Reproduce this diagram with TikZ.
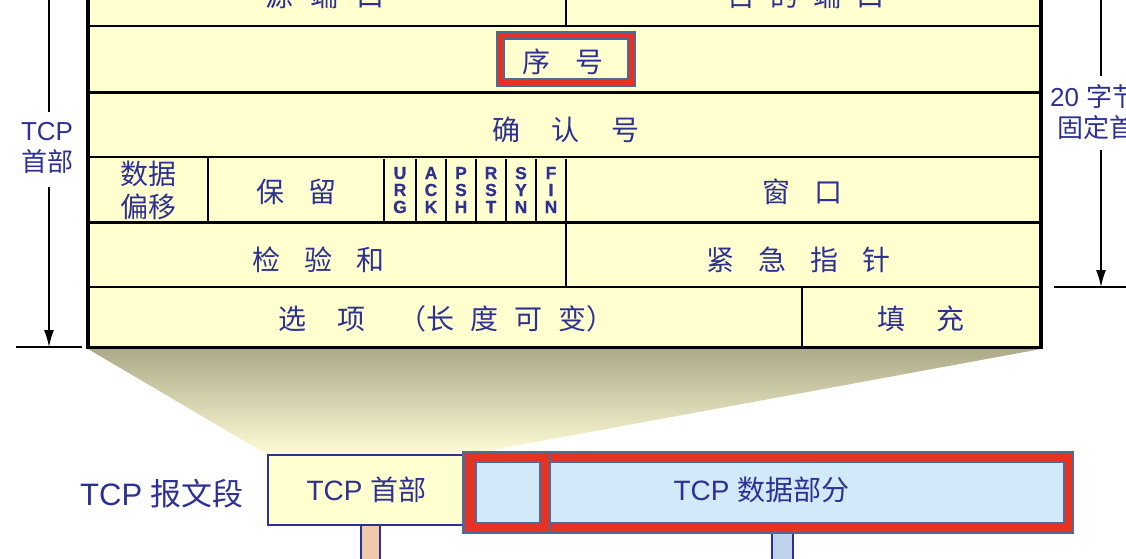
\documentclass[tikz,border=0pt]{standalone}
\usepackage{fontspec}
\setmainfont{Liberation Sans}
\newfontfamily\cjk{Noto Sans CJK SC}
\newfontfamily\latb{Liberation Sans Bold}[FakeBold=0.8]
\usetikzlibrary{arrows.meta}
\definecolor{tabfill}{RGB}{255,255,208}
\definecolor{txtblue}{RGB}{46,49,146}
\definecolor{redband}{RGB}{230,50,35}
\definecolor{bordgray}{RGB}{74,108,150}
\definecolor{lightblue}{RGB}{210,233,250}
\definecolor{peach}{RGB}{240,200,172}
\definecolor{stemblue}{RGB}{190,210,236}
\definecolor{shdtop}{RGB}{172,170,136}
\definecolor{shdmid}{RGB}{234,232,190}
\definecolor{shdbot}{RGB}{254,253,215}
\tikzset{
  tt/.style={text=txtblue, font=\cjk\fontsize{28}{33}\selectfont, inner sep=0pt, align=center},
  lbl/.style={text=txtblue, font=\fontsize{26}{31}\selectfont, inner sep=0pt, align=center},
  flagtxt/.style={text=txtblue, font=\latb\fontsize{17.5}{17}\selectfont, inner sep=0pt, align=center},
  rowline/.style={line width=2.5pt, black},
  edge/.style={line width=4pt, black},
  dimline/.style={line width=1.5pt, black},
  dimarrow/.style={line width=1.5pt, black, -{Latex[length=17pt,width=10pt]}},
  redouter/.style={draw=bordgray, fill=redband, line width=2.5pt},
  blueinner/.style={draw=bordgray, fill=lightblue, line width=2pt},
}
\begin{document}
\begin{tikzpicture}[x=1pt,y=-1pt]
\useasboundingbox (0,0) rectangle (1126,558);
\clip (0,0) rectangle (1126,558);

% shadow trapezoid
\shade[top color=shdtop, middle color=shdmid, bottom color=shdbot]
  (88,349) -- (1041,349) -- (465,455) -- (268,455) -- cycle;

% table background
\fill[tabfill] (88,-40) rectangle (1041,348);
% row lines
\foreach \yy in {26,92.5,157,222.5,287}
  \draw[rowline] (88,\yy) -- (1041,\yy);
% vertical dividers
\draw[rowline] (566,-40) -- (566,26);
\draw[rowline] (208,158) -- (208,222);
\foreach \xx in {384,416,446,476,506,536,566}
  \draw[rowline] (\xx,159) -- (\xx,221);
\draw[rowline] (566,222.5) -- (566,287);
\draw[line width=2pt] (802,287) -- (802,349);
% outer edges
\draw[edge] (88,-40) -- (88,349);
\draw[edge] (1041,-40) -- (1041,349);
\draw[line width=3pt] (86,347.5) -- (1043,347.5);

% sequence number highlight box
\node[redouter, minimum width=138pt, minimum height=54pt] (seqo) at (566,59) {};
\node[draw=bordgray, fill=tabfill, line width=2pt, minimum width=124pt, minimum height=40pt] (seqi) at (566,59) {};

% table texts
\node[tt] (srcport) at (325,-4) {源\hspace{18pt}端\hspace{18pt}口};
\node[tt] (dstport) at (806,-4) {目\hspace{15pt}的\hspace{15pt}端\hspace{15pt}口};
\node[tt] (seq) at (563,62) {序\hspace{25pt}号};
\node[tt] (ack) at (566,130) {确\hspace{32pt}认\hspace{32pt}号};
\node[tt] (offset) at (148,190) {数据\\偏移};
\node[tt] (resv) at (296,192) {保\hspace{24pt}留};
\node[flagtxt] (furg) at (400,190) {U\\R\\G};
\node[flagtxt] (fack) at (431,190) {A\\C\\K};
\node[flagtxt] (fpsh) at (461,190) {P\\S\\H};
\node[flagtxt] (frst) at (491,190) {R\\S\\T};
\node[flagtxt] (fsyn) at (521,190) {S\\Y\\N};
\node[flagtxt] (ffin) at (551,190) {F\\I\\N};
\node[tt] (win) at (802,192) {窗\hspace{24pt}口};
\node[tt] (csum) at (318.5,260) {检\hspace{24pt}验\hspace{24pt}和};
\node[tt] (urgp) at (798.5,260) {紧\hspace{24pt}急\hspace{24pt}指\hspace{24pt}针};
\node[tt] (opts) at (446.5,319) {选\hspace{32pt}项\hspace{33pt}（长\hspace{16pt}度\hspace{16pt}可\hspace{16pt}变）};
\node[tt] (pad) at (921,319) {填\hspace{32pt}充};

% left dimension
\node[lbl] (hdrlbl) at (47,148) {TCP\\{\cjk 首部}};
\coordinate (lt) at (49,-10);
\coordinate (lt2) at (49,112);
\coordinate (lb1) at (49,187);
\coordinate (lb) at (49,347);
\coordinate (lh1) at (16,347);
\coordinate (lh2) at (82,347);
\draw[dimline] (lt) -- (lt2);
\draw[dimarrow] (lb1) -- (lb);
\draw[dimline] (lh1) -- (lh2);

% right dimension
\node[lbl, anchor=west] (fix1) at (1050,97) {20 {\cjk 字节}};
\node[lbl, anchor=west] (fix2) at (1057,128) {{\cjk 固定首部}};
\coordinate (rt) at (1101,-10);
\coordinate (rt2) at (1101,76);
\coordinate (rb1) at (1101,150);
\coordinate (rb) at (1101,287);
\coordinate (rh1) at (1054,287);
\coordinate (rh2) at (1140,287);
\draw[dimline] (rt) -- (rt2);
\draw[dimarrow] (rb1) -- (rb);
\draw[dimline] (rh1) -- (rh2);

% bottom segment
\node[text=txtblue, font=\fontsize{31}{36}\selectfont, anchor=west, inner sep=0pt] (seglbl) at (80,494) {TCP {\cjk 报文段}};
\draw[draw=txtblue, fill=peach, line width=1.5pt] (361,520) rectangle (380,570);
\node[draw=txtblue, fill=tabfill, line width=2pt, minimum width=197pt, minimum height=70pt, inner sep=0pt,
      text=txtblue, font=\fontsize{28}{32}\selectfont] (hdrbox) at (366.5,490) {TCP {\cjk 首部}};
\draw[draw=txtblue, fill=stemblue, line width=1.5pt] (772,528) rectangle (793,570);
\node[redouter, minimum width=87pt, minimum height=80pt] (smallo) at (507,492.5) {};
\node[blueinner, minimum width=64pt, minimum height=61pt] (smalli) at (508,492.5) {};
\node[redouter, minimum width=523pt, minimum height=80pt] (bigo) at (811.5,492.5) {};
\node[blueinner, minimum width=514pt, minimum height=61pt] (bigi) at (807,492.5) {};
\node[text=txtblue, font=\fontsize{28}{32}\selectfont, inner sep=0pt] (datatxt) at (761.5,490) {TCP {\cjk 数据部分}};
\end{tikzpicture}
\end{document}
